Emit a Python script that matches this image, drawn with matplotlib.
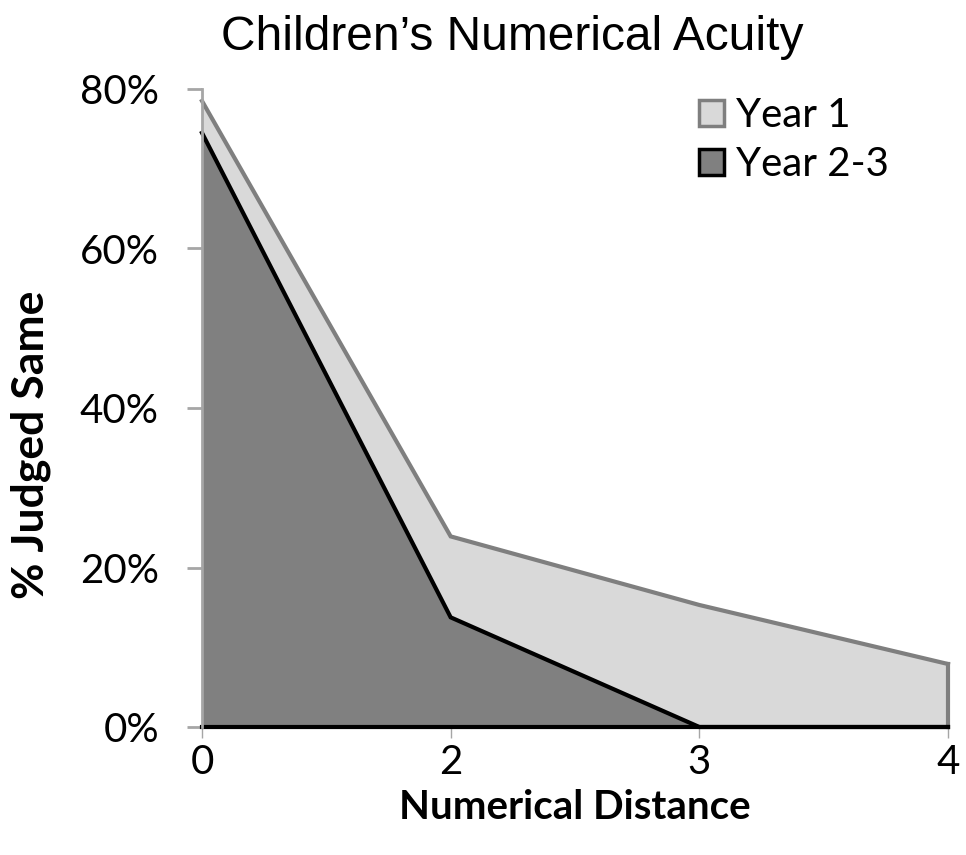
import numpy as np
import matplotlib.pyplot as plt
from matplotlib.patches import Patch

# data
distances = ['0', '2', '3', '4']
year1 = [78.5, 23.9, 15.3, 7.9]
year23 = [74.5, 13.75, 0.0, 0.0]
yticks = [0, 20, 40, 60, 80]

plt.rcParams['font.family'] = ['Lato', 'DejaVu Sans']

fig = plt.figure(figsize=(9.66, 8.55), dpi=100)
ax = fig.add_axes([202 / 966, 1 - 727 / 855, (948 - 202) / 966, (727 - 89) / 855])

x = np.arange(len(distances))
# fills without edges, outlines drawn on top
ax.fill_between(x, year1, 0, facecolor='#d9d9d9', linewidth=0, zorder=2)
ax.fill_between(x, year23, 0, facecolor='#808080', linewidth=0, zorder=3)
ax.plot(x, year1, color='#7f7f7f', lw=3, solid_joinstyle='miter', clip_on=False, zorder=4)
ax.plot([x[-1], x[-1]], [year1[-1], 0], color='#7f7f7f', lw=3, clip_on=False, zorder=4)
ax.plot(x, year23, color='#000000', lw=3, solid_joinstyle='miter', clip_on=False, zorder=5)
ax.axhline(0, color='#000000', lw=3, clip_on=False, zorder=5)

ax.set_xlim(0, len(distances) - 1)
ax.set_ylim(0, 80)
ax.set_xticks(x)
ax.set_xticklabels(distances)
ax.set_yticks(yticks)
ax.set_yticklabels([f'{t}%' for t in yticks])

for s in ['top', 'right', 'bottom']:
    ax.spines[s].set_visible(False)
ax.spines['left'].set_color('#a6a6a6')
ax.spines['left'].set_linewidth(2)
ax.spines['left'].set_zorder(6)

ax.tick_params(axis='y', length=11, width=2, color='#a6a6a6', labelsize=29, pad=20)
ax.tick_params(axis='x', length=8, width=1, color='#a6a6a6', labelsize=29, pad=4)

ax.set_xlabel('Numerical Distance', fontsize=29, fontweight='bold', labelpad=6)
ax.set_ylabel('% Judged Same', fontsize=32, fontweight='bold')
ax.yaxis.set_label_coords(-0.203, 0.442)
fig.suptitle('Children\u2019s Numerical Acuity', x=0.53, y=0.982,
             fontsize=34.5, family=['Liberation Sans', 'DejaVu Sans'])

handles = [Patch(facecolor='#d9d9d9', edgecolor='#7f7f7f', linewidth=2.5, label='Year 1'),
           Patch(facecolor='#808080', edgecolor='#000000', linewidth=2.5, label='Year 2-3')]
ax.legend(handles=handles, loc='upper right', bbox_to_anchor=(0.97, 1.044), frameon=False,
          fontsize=29, handlelength=0.62, handleheight=0.62, handletextpad=0.3, labelspacing=0.3)

fig.savefig('out.png', dpi=100)
